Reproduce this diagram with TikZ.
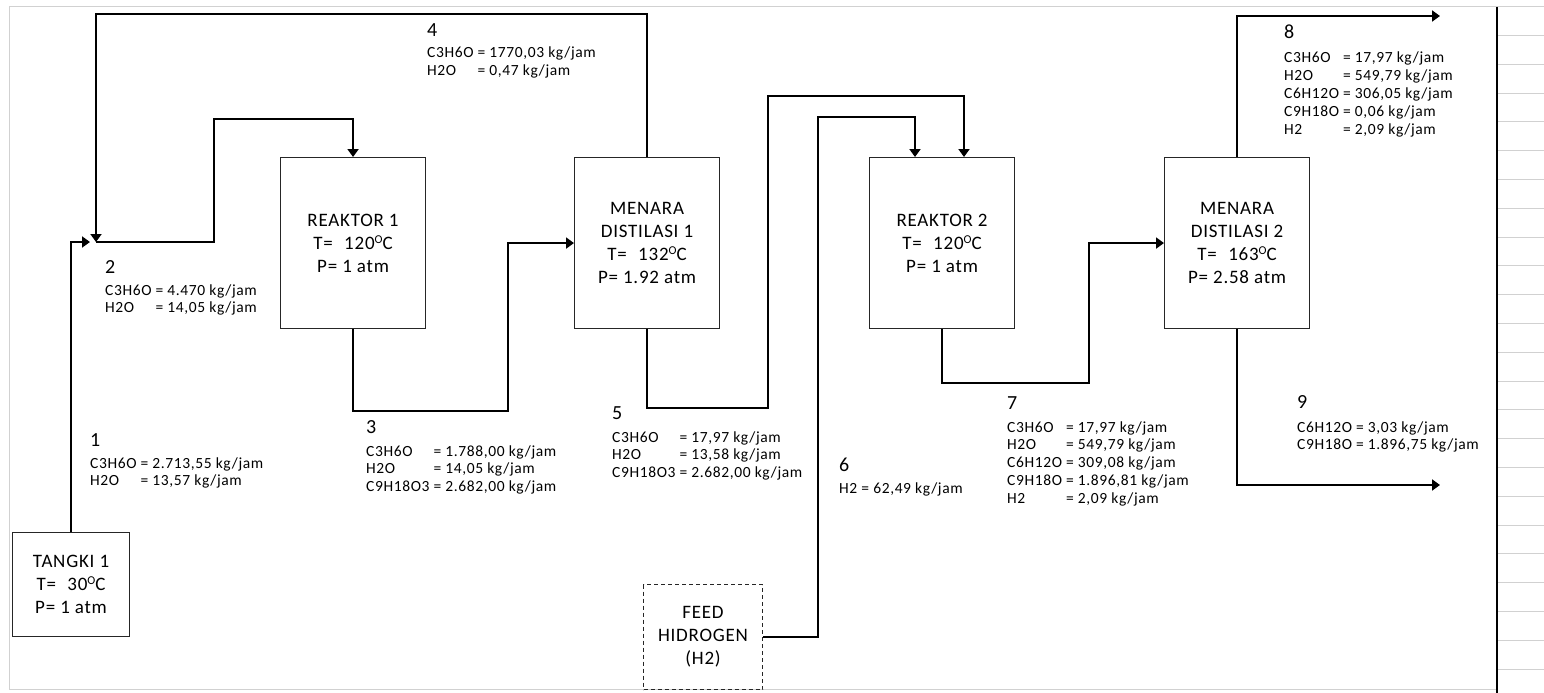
\documentclass[tikz,border=0pt]{standalone}
\usepackage{fontspec}
\setmainfont{Carlito}
\newfontfamily\cf[LetterSpace=4]{Carlito}
\usetikzlibrary{arrows.meta}
\newcommand\degc{\raisebox{0.3em}{\fontsize{12}{12}\selectfont O}C}
\newcommand\tabl[1]{\begin{tabular}[t]{@{}l@{\hspace{4pt}}l@{}}#1\end{tabular}}
\begin{document}
\begin{tikzpicture}[x=1pt,y=-1pt,
 unit/.style={draw=black!85, line width=1.1pt, anchor=north west, align=center, inner sep=0pt, font=\cf\fontsize{19}{23}\selectfont},
 stream/.style={draw=black, line width=1.9pt},
 arr/.style={stream, -{Triangle[length=8pt,width=11pt]}},
 num/.style={anchor=base west, inner sep=0pt, font=\cf\fontsize{20}{24}\selectfont},
 data/.style={anchor=base west, inner sep=0pt, font=\cf\fontsize{15.5}{17.8}\selectfont},
 grid/.style={draw=black!18, line width=1pt}]
\useasboundingbox (0,0) rectangle (1544,693);
\fill[white] (0,0) rectangle (1544,693);
% sheet frame and grid
\draw[grid] (9,7) -- (1544,7);
\draw[grid] (9,7) -- (9,689) -- (1497,689);
\foreach \k in {0,...,22} \draw[grid] (1497,{35.5+28.8*\k}) -- (1544,{35.5+28.8*\k});
\draw[black, line width=1.5pt] (1497,7) -- (1497,693);
% units
\node[unit, minimum width=117pt, minimum height=104pt] (tank) at (12,532) {TANGKI 1\\T=\hspace{.6em}30\degc\\P= 1 atm};
\node[unit, minimum width=145pt, minimum height=171pt] (r1) at (280,157) {REAKTOR 1\\T=\hspace{.6em}120\degc\\P= 1 atm};
\node[unit, minimum width=145pt, minimum height=171pt] (m1) at (574,157) {MENARA\\DISTILASI 1\\T=\hspace{.6em}132\degc\\P= 1.92 atm};
\node[unit, minimum width=145pt, minimum height=171pt] (r2) at (869,157) {REAKTOR 2\\T=\hspace{.6em}120\degc\\P= 1 atm};
\node[unit, minimum width=145pt, minimum height=171pt] (m2) at (1164,157) {MENARA\\DISTILASI 2\\T=\hspace{.6em}163\degc\\P= 2.58 atm};
\node[unit, dash pattern=on 4pt off 3pt, minimum width=119pt, minimum height=105pt] (feed) at (643,584) {FEED\\HIDROGEN\\(H2)};
% junction and bend points
\coordinate (mixin) at (90,242);
\coordinate (mix) at (96,242);
\coordinate (top4) at (96,14);
\coordinate (b2) at (214,119);
\coordinate (b3) at (508,411);
\coordinate (b5a) at (768,408);
\coordinate (b5b) at (768,96);
\coordinate (r2in5) at ([xshift=95pt]r2.north west);
\coordinate (b6) at (818,117);
\coordinate (r2in6) at ([xshift=46pt]r2.north west);
\coordinate (b7) at (1089,383);
\coordinate (out8) at (1440,16);
\coordinate (out9) at (1440,485);
% streams
\draw[arr] (tank.north) |- (mixin);
\draw[arr] (m1.north) |- (top4) -- (mix);
\draw[arr] (mix) -| (b2) -| (r1.north);
\draw[arr] (r1.south) |- (b3) |- (m1.west);
\draw[arr] (m1.south) |- (b5a) -- (b5b) -| (r2in5);
\draw[arr] (feed.east) -| (b6) -| (r2in6);
\draw[arr] (r2.south) |- (b7) |- (m2.west);
\draw[arr] (m2.north) |- (out8);
\draw[arr] (m2.south) |- (out9);
% stream labels
\node[num] (n1) at (90,446) {1};
\node[data] (d1) at (90,468) {\tabl{C3H6O & = 2.713,55 kg/jam\\ H2O & = 13,57 kg/jam}};
\node[num] (n2) at (105,273) {2};
\node[data] (d2) at (105,295) {\tabl{C3H6O & = 4.470 kg/jam\\ H2O & = 14,05 kg/jam}};
\node[num] (n3) at (366,433) {3};
\node[data] (d3) at (366,456) {\tabl{C3H6O & = 1.788,00 kg/jam\\ H2O & = 14,05 kg/jam\\ C9H18O3 & = 2.682,00 kg/jam}};
\node[num] (n4) at (427,37) {4};
\node[data] (d4) at (427,58) {\tabl{C3H6O & = 1770,03 kg/jam\\ H2O & = 0,47 kg/jam}};
\node[num] (n5) at (612,419) {5};
\node[data] (d5) at (612,442) {\tabl{C3H6O & = 17,97 kg/jam\\ H2O & = 13,58 kg/jam\\ C9H18O3 & = 2.682,00 kg/jam}};
\node[num] (n6) at (839,471) {6};
\node[data] (d6) at (839,493) {H2 = 62,49 kg/jam};
\node[num] (n7) at (1007,409) {7};
\node[data] (d7) at (1007,432) {\tabl{C3H6O & = 17,97 kg/jam\\ H2O & = 549,79 kg/jam\\ C6H12O & = 309,08 kg/jam\\ C9H18O & = 1.896,81 kg/jam\\ H2 & = 2,09 kg/jam}};
\node[num] (n8) at (1284,39) {8};
\node[data] (d8) at (1284,63) {\tabl{C3H6O & = 17,97 kg/jam\\ H2O & = 549,79 kg/jam\\ C6H12O & = 306,05 kg/jam\\ C9H18O & = 0,06 kg/jam\\ H2 & = 2,09 kg/jam}};
\node[num] (n9) at (1297,408) {9};
\node[data] (d9) at (1297,432) {\tabl{C6H12O & = 3,03 kg/jam\\ C9H18O & = 1.896,75 kg/jam}};
\end{tikzpicture}
\end{document}
